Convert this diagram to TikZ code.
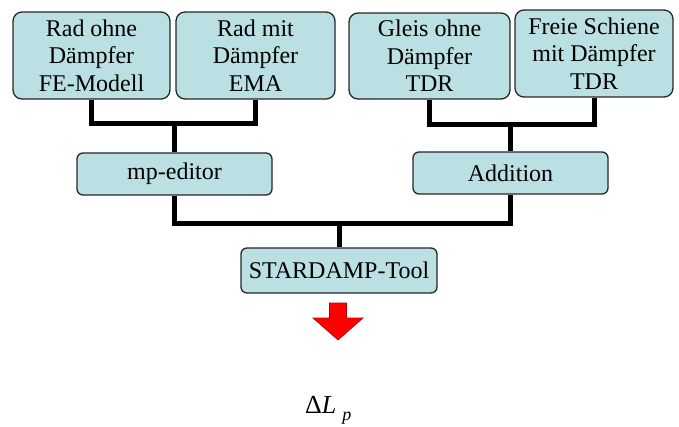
\documentclass[tikz,border=0pt]{standalone}
\usepackage{fontspec}
\setmainfont{Liberation Serif}
\begin{document}
\begin{tikzpicture}[x=1pt,y=-1pt,
  box/.style={draw=black!85,line width=1.3pt,fill=boxfill,rounded corners=#1,align=center,inner sep=0pt,
    font=\fontsize{24}{27.5}\selectfont},
  box/.default=9pt,
  link/.style={line width=5pt,draw=black}]
\definecolor{boxfill}{RGB}{187,224,227}
\useasboundingbox (0,0) rectangle (679,426);
\node[box,minimum width=157pt,minimum height=87pt] (b1) at (91.5,55.5) {Rad ohne\\Dämpfer\\FE-Modell};
\node[box,minimum width=159pt,minimum height=87pt] (b2) at (255.5,55.5) {Rad mit\\Dämpfer\\EMA};
\node[box,minimum width=161pt,minimum height=86pt] (b3) at (429.5,56) {Gleis ohne\\Dämpfer\\TDR};
\node[box,minimum width=158pt,minimum height=87pt] (b4) at (594,53.5) {Freie Schiene\\mit Dämpfer\\TDR};
\node[box=6pt,minimum width=195pt,minimum height=42pt] (mp) at (174.5,174) {mp-editor};
\node[box=6pt,minimum width=195pt,minimum height=42pt] (add) at (510.5,173) {Addition};
\node[box=6pt,minimum width=196pt,minimum height=45pt] (st) at (339,270.5) {STARDAMP-Tool};
\coordinate (j1) at (174.5,123);
\coordinate (j2) at (510.5,124);
\coordinate (j3) at (339,223);
\draw[link] (b1.south) |- (j1) -| (b2.south);
\draw[link] (j1) -- (mp.north);
\draw[link] (b3.south) |- (j2) -| (b4.south);
\draw[link] (j2) -- (add.north);
\draw[link] (mp.south) |- (j3) -| (add.south);
\draw[link] (j3) -- (st.north);
\coordinate (ar) at (338,303);
\draw[fill=red,draw=red!70!black,line width=0.6pt] (ar) ++(-8.5,0) -- ++(17,0) -- ++(0,15) -- ++(16.5,0) -- ++(-25,22) -- ++(-25,-22) -- ++(16.5,0) -- cycle;
\node[anchor=base west,inner sep=0pt,font=\fontsize{26}{27}\selectfont] (dl) at (305,413) {Δ\textit{L}\hspace{6pt}\raisebox{-7pt}{\fontsize{18}{18}\selectfont\textit{p}}};
\end{tikzpicture}
\end{document}
